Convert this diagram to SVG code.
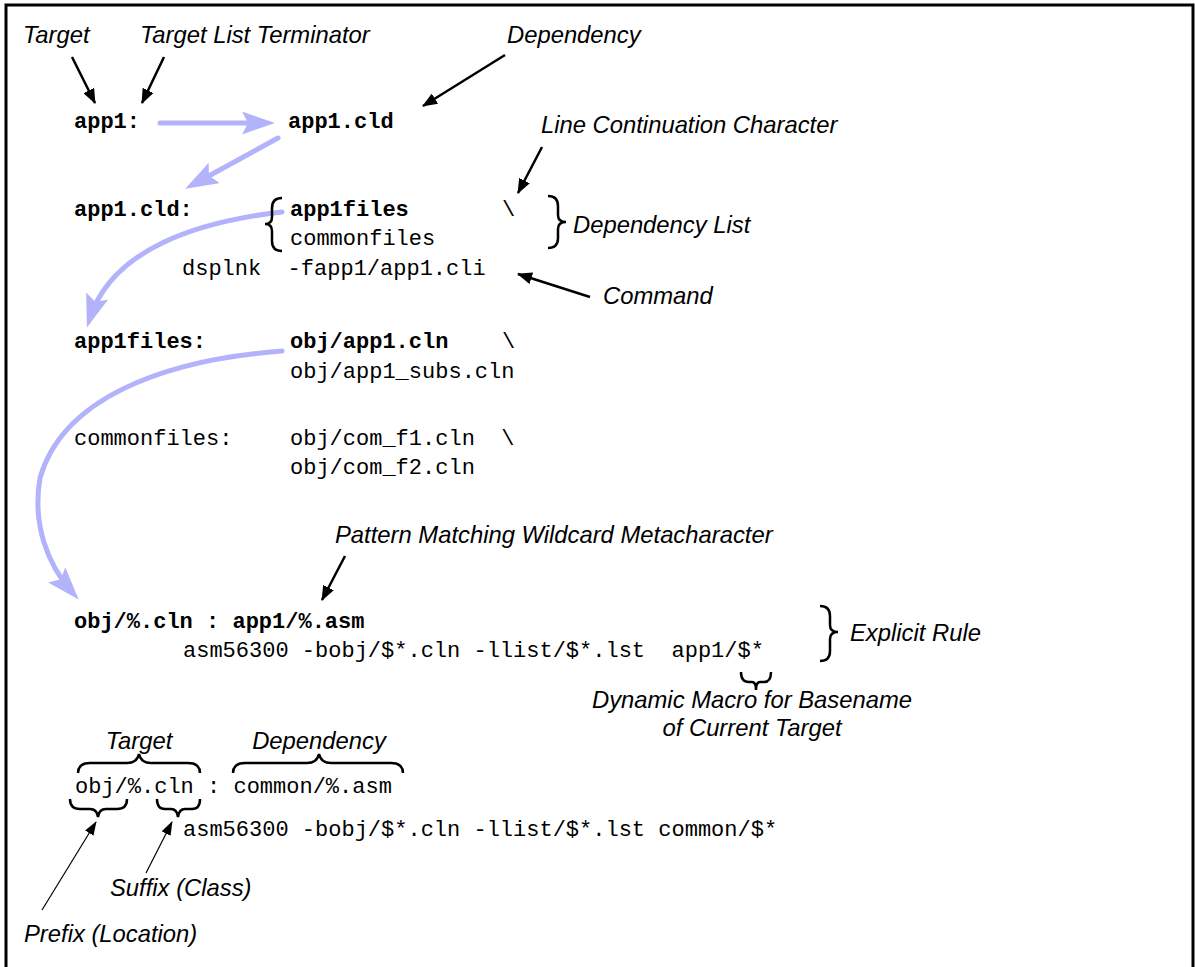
<svg xmlns="http://www.w3.org/2000/svg" width="1195" height="967" viewBox="0 0 1195 967">
<defs>
<style>
.lbl{font-family:"Liberation Sans",Arial,sans-serif;font-style:italic;font-size:23.8px;fill:#000}
.code{font-family:"Liberation Mono","Courier New",monospace;font-size:22px;fill:#000;white-space:pre}
.b{font-weight:bold}
.blk{stroke:#000;stroke-width:2.5;fill:none}
.thin{stroke:#000;stroke-width:1.2;fill:none}
.blue{stroke:#b3b3fb;stroke-width:5;fill:none;stroke-linecap:round}
.brace{stroke:#000;stroke-width:2.5;fill:none}
</style>
<marker id="ah" markerUnits="userSpaceOnUse" markerWidth="15" markerHeight="12" viewBox="0 0 15 12" refX="14" refY="6" orient="auto" preserveAspectRatio="none">
<path d="M0,0 L15,6 L0,12 Z" fill="#000"/>
</marker>
<marker id="ahs" markerUnits="userSpaceOnUse" markerWidth="14" markerHeight="10" viewBox="0 0 14 10" refX="13" refY="5" orient="auto" preserveAspectRatio="none">
<path d="M0,0 L14,5 L0,10 Z" fill="#000"/>
</marker>
<marker id="bh" markerUnits="userSpaceOnUse" markerWidth="33" markerHeight="23" viewBox="0 0 33 23" refX="23" refY="11.5" orient="auto" preserveAspectRatio="none">
<path d="M0,0 L33,11.5 L0,23 L6,11.5 Z" fill="#b3b3fb"/>
</marker>
</defs>
<rect x="6" y="5" width="1187" height="970" fill="#fff" stroke="#000" stroke-width="3"/>

<g id="connectors">
<line class="blue" x1="160" y1="123" x2="265" y2="123" marker-end="url(#bh)"/>
<line class="blue" x1="278" y1="138" x2="194" y2="184" marker-end="url(#bh)"/>
<path class="blue" d="M282,212 C195,222 112,250 90,318" marker-end="url(#bh)"/>
<path class="blue" d="M282,351 C160,360 62,400 40,478 C32,525 48,565 72,592" marker-end="url(#bh)"/>
<line class="blk" x1="72" y1="57" x2="95" y2="103" marker-end="url(#ah)"/>
<line class="blk" x1="164" y1="57" x2="142" y2="103" marker-end="url(#ah)"/>
<line class="blk" x1="505" y1="55" x2="423" y2="106" marker-end="url(#ah)"/>
<line class="blk" x1="542" y1="147" x2="518" y2="193" marker-end="url(#ah)"/>
<line class="blk" x1="590" y1="297" x2="518" y2="274" marker-end="url(#ah)"/>
<line class="blk" x1="345" y1="556" x2="322" y2="600" marker-end="url(#ah)"/>
<line class="thin" x1="42" y1="910" x2="96" y2="822" marker-end="url(#ahs)"/>
<line class="thin" x1="146" y1="873" x2="172" y2="822" marker-end="url(#ahs)"/>
</g>

<g id="braces">
<path class="brace" d="M282,198 Q272,198 272,208 L272,217 Q272,224 265,224 Q272,224 272,231 L272,241 Q272,251 282,251"/>
<path class="brace" d="M548,196 Q558,196 558,206 L558,215 Q558,222 566,222 Q558,222 558,229 L558,238 Q558,248 548,248"/>
<path class="brace" d="M820,606 Q830,606 830,616 L830,625 Q830,632 838,632 Q830,632 830,639 L830,651 Q830,661 820,661"/>
<path class="brace" d="M741,672 Q741,682 749,682 L752,682 Q756,682 756,690 Q756,682 760,682 L764,682 Q771,682 771,672"/>
<path class="brace" d="M78,773 Q78,763 90,763 L127,763 Q137,763 139,754 Q141,763 151,763 L188,763 Q200,763 200,773"/>
<path class="brace" d="M233,773 Q233,763 245,763 L307,763 Q317,763 319,754 Q321,763 331,763 L391,763 Q403,763 403,773"/>
<path class="brace" d="M70,799 Q70,809 80,809 L90,809 Q97,809 98,817 Q99,809 106,809 L117,809 Q127,809 127,799"/>
<path class="brace" d="M157,799 Q157,809 165,809 L171,809 Q177,809 178,817 Q179,809 185,809 L192,809 Q200,809 200,799"/>
</g>

<g id="labels">
<text class="lbl" x="23" y="43">Target</text>
<text class="lbl" x="140" y="43">Target List Terminator</text>
<text class="lbl" x="507" y="43">Dependency</text>
<text class="lbl" x="541" y="133">Line Continuation Character</text>
<text class="lbl" x="573" y="233">Dependency List</text>
<text class="lbl" x="603" y="304">Command</text>
<text class="lbl" x="335" y="543">Pattern Matching Wildcard Metacharacter</text>
<text class="lbl" x="850" y="641">Explicit Rule</text>
<text class="lbl" x="752" y="708" text-anchor="middle">Dynamic Macro for Basename</text>
<text class="lbl" x="752" y="736" text-anchor="middle">of Current Target</text>
<text class="lbl" x="139" y="749" text-anchor="middle">Target</text>
<text class="lbl" x="319" y="749" text-anchor="middle">Dependency</text>
<text class="lbl" x="110" y="896">Suffix (Class)</text>
<text class="lbl" x="24" y="942">Prefix (Location)</text>
</g>

<g id="code">
<text class="code b" x="74" y="128">app1:</text>
<text class="code b" x="288" y="128">app1.cld</text>
<text class="code b" x="74" y="216">app1.cld:</text>
<text class="code b" x="290" y="216">app1files</text>
<text class="code" x="502" y="216">\</text>
<text class="code" x="290" y="245">commonfiles</text>
<text class="code" x="182" y="275">dsplnk  -fapp1/app1.cli</text>
<text class="code b" x="74" y="348">app1files:</text>
<text class="code b" x="290" y="348">obj/app1.cln</text>
<text class="code" x="502" y="348">\</text>
<text class="code" x="290" y="378">obj/app1_subs.cln</text>
<text class="code" x="74" y="445">commonfiles:</text>
<text class="code" x="290" y="445">obj/com_f1.cln  \</text>
<text class="code" x="290" y="474">obj/com_f2.cln</text>
<text class="code b" x="74" y="628">obj/%.cln : app1/%.asm</text>
<text class="code" x="183" y="657">asm56300 -bobj/$*.cln -llist/$*.lst  app1/$*</text>
<text class="code" x="75" y="793">obj/%.cln : common/%.asm</text>
<text class="code" x="183" y="836">asm56300 -bobj/$*.cln -llist/$*.lst common/$*</text>
</g>
</svg>
